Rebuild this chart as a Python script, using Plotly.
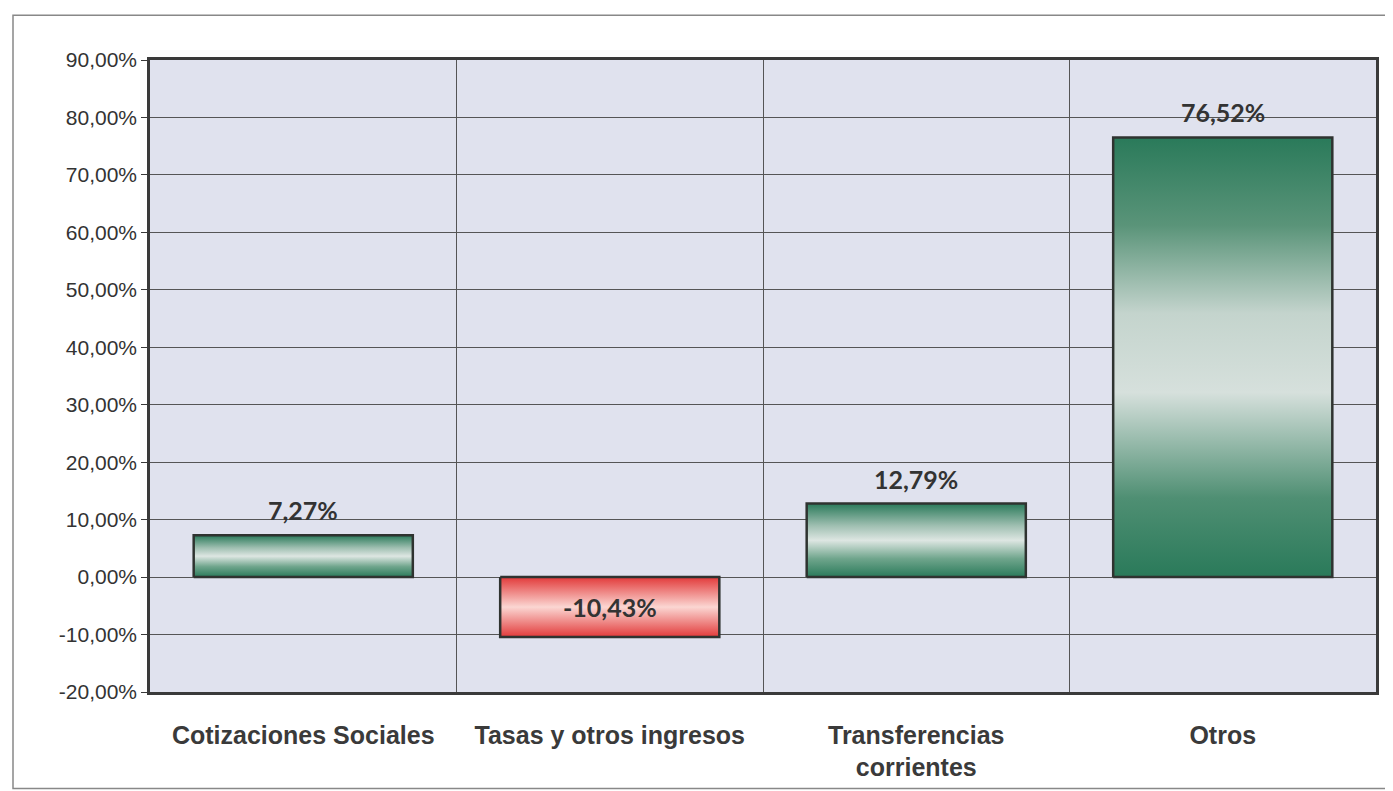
import plotly.graph_objects as go

categories = ["Cotizaciones Sociales", "Tasas y otros ingresos", "Transferencias<br>corrientes", "Otros"]
values = [7.27, -10.43, 12.79, 76.52]
label_texts = ["7,27%", "-10,43%", "12,79%", "76,52%"]
y_ticks = [-20, -10, 0, 10, 20, 30, 40, 50, 60, 70, 80, 90]
y_tick_text = ["-20,00%", "-10,00%", "0,00%", "10,00%", "20,00%", "30,00%", "40,00%",
               "50,00%", "60,00%", "70,00%", "80,00%", "90,00%"]

BAR_W = 0.715
GREEN_SCALE = [[0, "#2a7a5a"], [0.25, "#6fa58c"], [0.5, "#dde6e2"], [0.7, "#9fbfb1"], [1, "#2a7a5a"]]
GREEN_SCALE_TALL = [[0, "#2a7a5a"], [0.18, "#4f8f73"], [0.42, "#d6e0dc"], [0.6, "#c4d4cd"], [0.8, "#5a9479"], [1, "#2a7a5a"]]
RED_SCALE = [[0, "#e23a3a"], [0.5, "#fbd6d2"], [1, "#e23a3a"]]

# page offset of the plot div inside the browser window
OFF = 6
W, H = 1393 - OFF, 791 - OFF
L, T = 148 - OFF, 58 - OFF
R = W + OFF - 1374
B = H + OFF - 693
PW, PH = W - L - R, H - T - B

fig = go.Figure()

for i, v in enumerate(values):
    x0, x1 = i - BAR_W / 2, i + BAR_W / 2
    if v < 0:
        scale = RED_SCALE
    elif v > 40:
        scale = GREEN_SCALE_TALL
    else:
        scale = GREEN_SCALE
    fig.add_trace(go.Scatter(
        x=[x0, x1, x1, x0, x0],
        y=[0, 0, v, v, 0],
        mode="lines",
        fill="toself",
        fillgradient=dict(type="vertical", colorscale=scale),
        line=dict(color="#2f3330", width=2.5),
        hoverinfo="skip",
        showlegend=False,
    ))

annotations = []
for i, (v, t) in enumerate(zip(values, label_texts)):
    if v >= 0:
        annotations.append(dict(x=i, y=v, xref="x", yref="y", text=f"<b>{t}</b>",
                                showarrow=False, yanchor="bottom", yshift=8,
                                font=dict(family="Lato", size=25, color="#333333")))
    else:
        annotations.append(dict(x=i, y=v / 2, xref="x", yref="y", text=f"<b>{t}</b>",
                                showarrow=False, yanchor="middle",
                                font=dict(family="Lato", size=25, color="#333333")))

fig.update_layout(
    width=W, height=H,
    margin=dict(l=L, r=R, t=T, b=B),
    paper_bgcolor="white",
    plot_bgcolor="#e0e2ee",
    showlegend=False,
    font=dict(family="Liberation Sans, Arial", color="#333333"),
    annotations=annotations,
    xaxis=dict(
        range=[-0.5, 3.5],
        tickmode="array",
        tickvals=list(range(len(categories))),
        ticktext=[f"<b>{c}</b>" for c in categories],
        tickfont=dict(size=25, color="#3a3a3a"),
        showgrid=False,
        zeroline=False,
        showline=True, linecolor="#3a3a3a", linewidth=2.5, mirror=True,
        ticks="",
        ticklabelstandoff=19,
        minor=dict(tickmode="array", tickvals=[0.5, 1.5, 2.5], showgrid=True,
                   gridcolor="#555555", gridwidth=1, ticks=""),
        fixedrange=True,
    ),
    yaxis=dict(
        range=[-20, 90],
        tickmode="array",
        tickvals=y_ticks,
        ticktext=y_tick_text,
        tickfont=dict(size=21, color="#333333"),
        showgrid=True, gridcolor="#555555", gridwidth=1,
        zeroline=False,
        showline=True, linecolor="#3a3a3a", linewidth=2.5, mirror=True,
        ticks="outside", ticklen=6, tickcolor="#3a3a3a",
        fixedrange=True,
    ),
    shapes=[dict(
        type="rect", xref="paper", yref="paper",
        x0=(11 - 148) / PW, x1=(1400 - 148) / PW,
        y0=(693 - 790) / PH, y1=(693 - 13) / PH,
        line=dict(color="#888888", width=1.5), fillcolor="rgba(0,0,0,0)",
        layer="below",
    )],
)

fig.write_html("out.html")
